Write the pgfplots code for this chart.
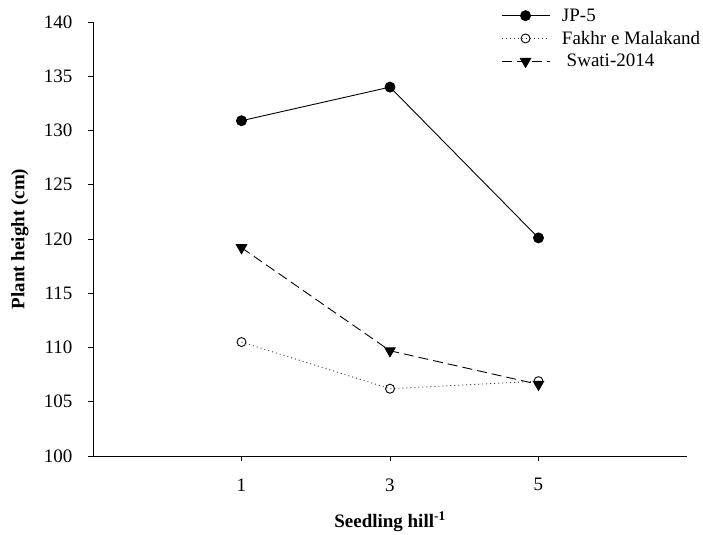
\documentclass[border=0pt]{standalone}
\usepackage{fontspec}
\setmainfont{Liberation Serif}
\usepackage{pgfplots}
\pgfplotsset{compat=1.18}
\begin{document}
\begin{tikzpicture}
\useasboundingbox (0,0) rectangle (703bp,535bp);
\begin{axis}[
  at={(93bp,79bp)}, anchor=south west,
  scale only axis, width=594bp, height=434bp,
  xmin=-1, xmax=7, ymin=100, ymax=140,
  axis x line*=bottom, axis y line*=left,
  axis line style={line width=1pt},
  xtick={1,3,5}, ytick={100,105,...,140},
  tick align=outside, major tick length=5bp,
  tick style={line width=0.8pt, black},
  /pgf/number format/assume math mode=true,
  ticklabel style={font=\fontsize{19bp}{22bp}\selectfont},
  yticklabel style={xshift=-12bp},
  xticklabel style={yshift=-14bp},
  xlabel={\textbf{Seedling hill\textsuperscript{-1}}},
  ylabel={\textbf{Plant height (cm)}},
  label style={font=\fontsize{19bp}{22bp}\selectfont},
  xlabel style={at={(axis description cs:0.5,-0.1245)}, anchor=north, inner sep=1bp},
  ylabel style={at={(axis description cs:-0.1229,0.5)}, anchor=center},
  legend style={at={(axis description cs:0.685,1.038)}, anchor=north west,
    draw=none, fill=none, font=\fontsize{19bp}{22bp}\selectfont,
    row sep=4.5bp, inner sep=1bp,
    /tikz/every odd column/.append style={column sep=10bp}},
  legend cell align=left,
  legend image code/.code={\draw[mark repeat=2,mark phase=2,#1] plot coordinates {(0,0) (24bp,0) (48bp,0)};},
]
\addplot[black, line width=0.9pt, mark=*, mark size=5bp, mark options={solid, fill=black}]
  coordinates {(1,130.9) (3,134.0) (5,120.1)};
\addlegendentry{JP-5}
\addplot[black!75, line width=0.9pt, dash pattern=on 1bp off 3bp, mark=o, mark size=4.5bp, mark options={solid, draw=black, fill=white, line width=0.9pt}]
  coordinates {(1,110.5) (3,106.2) (5,106.9)};
\addlegendentry{Fakhr e Malakand}
\addplot[black, line width=0.9pt, dash pattern=on 10bp off 5bp, mark=triangle*, mark size=6bp, mark options={solid, fill=black, rotate=180}]
  coordinates {(1,119.2) (3,109.7) (5,106.6)};
\addlegendentry{\ Swati-2014}
\end{axis}
\end{tikzpicture}
\end{document}
